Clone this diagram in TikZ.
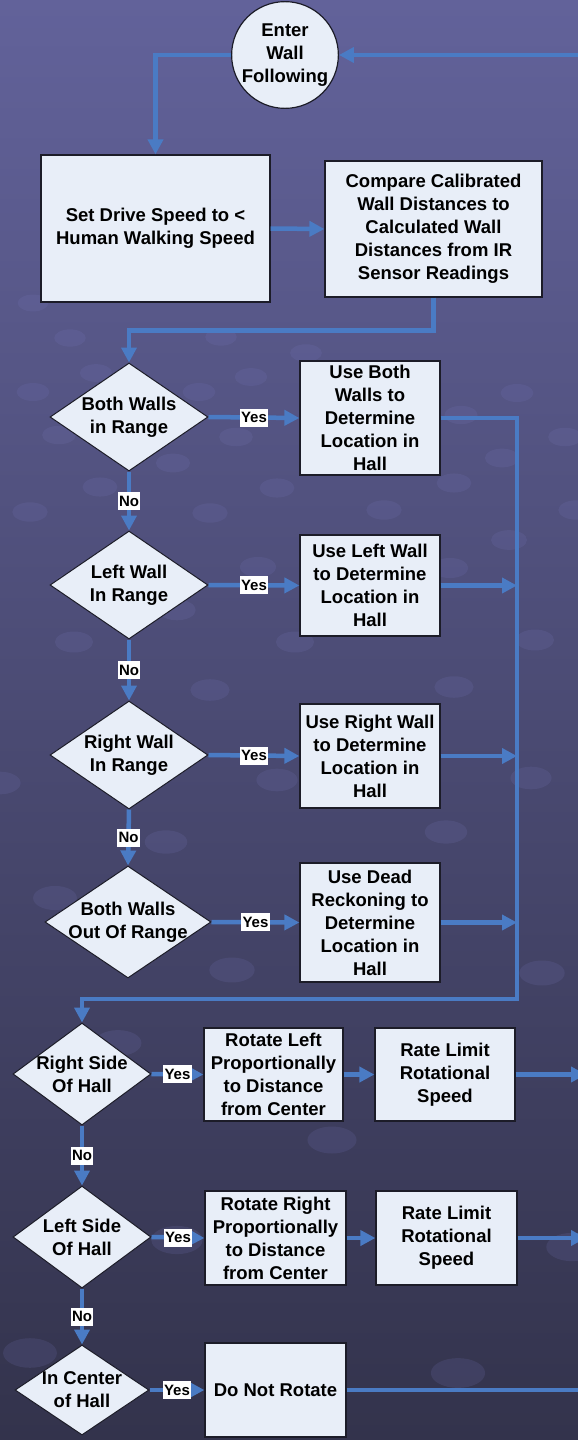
\documentclass[tikz,border=0pt]{standalone}
\usepackage{fontspec}
\setmainfont{Liberation Sans}
\usetikzlibrary{shapes.geometric,arrows.meta}

\definecolor{bgtop}{HTML}{62629A}
\definecolor{bgbot}{HTML}{33334C}
\definecolor{flowblue}{HTML}{4A7BC4}
\definecolor{boxfill}{HTML}{E8EEF8}
\definecolor{boxline}{HTML}{1C1C28}
\definecolor{spotcol}{HTML}{7A7AC0}

\tikzset{
    process/.style={draw=boxline, line width=1.2pt, fill=boxfill, align=center, inner sep=2pt},
    decision/.style={diamond, draw=boxline, line width=1pt, fill=boxfill, inner sep=0pt},
    dtext/.style={align=center, inner sep=0pt},
    flow/.style={flowblue, line width=4.5pt},
    answer/.style={fill=white, text=black, inner xsep=1.5pt, inner ysep=3pt, text height=11pt, text depth=1pt, font=\bfseries\fontsize{15}{15}\selectfont},
    spot/.style={fill=spotcol, fill opacity=0.16}
}

\begin{document}
\begin{tikzpicture}[
    x=1pt, y=-1pt,
    >={Triangle[length=15pt,width=15pt]},
    font=\bfseries\fontsize{18.5}{23}\selectfont
]

    % Background
    \useasboundingbox (0,0) rectangle (578,1440);
    \fill[top color=bgtop, bottom color=bgbot] (0,0) rectangle (578,1440);
    \foreach \sx/\sy in {33/303, 70/338, 221/337, 306/353, 96/373, 251/377, 517/393, 33/392, 199/392,
        461/415, 565/437, 59/435, 236/437, 502/458, 173/463, 100/487, 277/488, 454/483, 30/512,
        210/513, 384/510, 576/510, 509/540, 258/567, 450/568, 74/583, 177/610, 535/640, 295/642,
        74/642, 454/687, 210/690, 0/783, 277/780, 531/778, 166/842, 446/832, 55/898, 232/970,
        542/973, 118/1043, 332/1140, 177/1240, 572/1247, 30/1353, 458/1373}
    {
        \pgfmathsetmacro\sw{12+0.011*\sy}
        \fill[spot] (\sx,\sy) ellipse [x radius={\sw*1pt}, y radius={0.55*\sw*1pt}];
    }

    % Start and set up
    \node[circle, draw=boxline, line width=1.2pt, fill=boxfill, minimum size=106pt, inner sep=0pt, align=center] (enter) at (285,55) {Enter\\Wall\\Following};
    \node[process, minimum width=229pt, minimum height=147pt] (setspeed) at (155.5,228.5) {Set Drive Speed to <\\Human Walking Speed};
    \node[process, minimum width=217pt, minimum height=136pt] (compare) at (433.5,229) {Compare Calibrated\\Wall Distances to\\Calculated Wall\\Distances from IR\\Sensor Readings};

    % Wall checks
    \node[decision, minimum width=158pt, minimum height=108pt, label={[dtext]center:{Both Walls\\in Range}}] (both) at (129,417) {};
    \node[decision, minimum width=158pt, minimum height=108pt, label={[dtext]center:{Left Wall\\In Range}}] (left) at (129,585) {};
    \node[decision, minimum width=158pt, minimum height=108pt, label={[dtext]center:{Right Wall\\In Range}}] (right) at (129,755) {};
    \node[decision, minimum width=166pt, minimum height=112pt, label={[dtext]center:{Both Walls\\Out Of Range}}] (none) at (128,922) {};

    % Location estimates
    \node[process, minimum width=140pt, minimum height=114pt] (useboth) at (370,418) {Use Both\\Walls to\\Determine\\Location in\\Hall};
    \node[process, minimum width=140pt, minimum height=101pt] (useleft) at (370,585.5) {Use Left Wall\\to Determine\\Location in\\Hall};
    \node[process, minimum width=140pt, minimum height=104pt] (useright) at (370,756) {Use Right Wall\\to Determine\\Location in\\Hall};
    \node[process, minimum width=140pt, minimum height=119pt] (usedead) at (370,922.5) {Use Dead\\Reckoning to\\Determine\\Location in\\Hall};

    % Side of hall checks
    \node[decision, minimum width=138pt, minimum height=102pt, label={[dtext]center:{Right Side\\Of Hall}}] (rside) at (82,1074) {};
    \node[decision, minimum width=138pt, minimum height=102pt, label={[dtext]center:{Left Side\\Of Hall}}] (lside) at (82,1237) {};
    \node[decision, minimum width=134pt, minimum height=90pt, label={[dtext]center:{In Center\\of Hall}}] (center) at (82,1390) {};

    % Rotation commands
    \node[process, minimum width=139pt, minimum height=93pt] (rotleft) at (273.5,1074.5) {Rotate Left\\Proportionally\\to Distance\\from Center};
    \node[process, minimum width=140pt, minimum height=93pt] (limitone) at (445,1074.5) {Rate Limit\\Rotational\\Speed};
    \node[process, minimum width=141pt, minimum height=94pt] (rotright) at (275.5,1238) {Rotate Right\\Proportionally\\to Distance\\from Center};
    \node[process, minimum width=141pt, minimum height=94pt] (limittwo) at (446.5,1238) {Rate Limit\\Rotational\\Speed};
    \node[process, minimum width=141pt, minimum height=94pt] (norot) at (275.5,1390) {Do Not Rotate};

    % Helper points
    \coordinate (bus) at (517,999);
    \coordinate (back) at (590,55);
    \coordinate (edge) at (586,0);

    % Connections
    \draw[flow, ->] (back) -- (enter.east);
    \draw[flow, ->] (enter.west) -| (setspeed.north);
    \draw[flow, ->] (setspeed.east) -- (compare.west);
    \draw[flow, ->] (compare.south) -- ++(0,33) -| (both.north);

    \draw[flow, ->] (both.east) -- node[answer] {Yes} (useboth.west);
    \draw[flow, ->] (left.east) -- node[answer] {Yes} (useleft.west);
    \draw[flow, ->] (right.east) -- node[answer] {Yes} (useright.west);
    \draw[flow, ->] (none.east) -- node[answer] {Yes} (usedead.west);

    \draw[flow, ->] (both.south) -- node[answer] {No} (left.north);
    \draw[flow, ->] (left.south) -- node[answer] {No} (right.north);
    \draw[flow, ->] (right.south) -- node[answer] {No} (none.north);

    % Collect location results
    \draw[flow, ->] (useboth.east) -| (bus) -| (rside.north);
    \draw[flow, ->] (useleft.east) -- (useleft.east -| bus);
    \draw[flow, ->] (useright.east) -- (useright.east -| bus);
    \draw[flow, ->] (usedead.east) -- (usedead.east -| bus);

    % Rotation branches
    \draw[flow, ->] (rside.east) -- node[answer] {Yes} (rotleft.west);
    \draw[flow, ->] (lside.east) -- node[answer] {Yes} (rotright.west);
    \draw[flow, ->] (center.east) -- node[answer] {Yes} (norot.west);
    \draw[flow, ->] (rside.south) -- node[answer] {No} (lside.north);
    \draw[flow, ->] (lside.south) -- node[answer] {No} (center.north);

    \draw[flow, ->] (rotleft.east) -- (limitone.west);
    \draw[flow, ->] (rotright.east) -- (limittwo.west);
    \draw[flow, ->] (limitone.east) -- (limitone.east -| edge);
    \draw[flow, ->] (limittwo.east) -- (limittwo.east -| edge);
    \draw[flow] (norot.east) -- (norot.east -| back);

\end{tikzpicture}
\end{document}
